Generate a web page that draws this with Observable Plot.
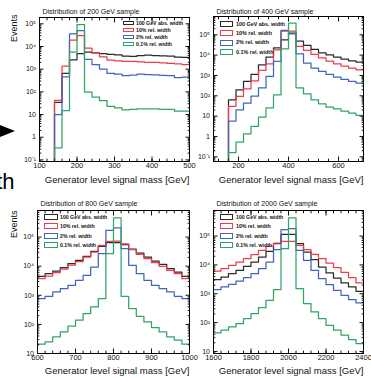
<!DOCTYPE html>
<html><head><meta charset="utf-8">
<script src="https://cdn.jsdelivr.net/npm/d3@7"></script>
<script src="https://cdn.jsdelivr.net/npm/@observablehq/plot@0.6"></script>
<style>
body{margin:0;background:#fff;}
#page{position:relative;width:371px;height:378px;overflow:hidden;background:#fff;font-family:"Liberation Sans",Arial,sans-serif;}
.panel{position:absolute;}
.leg{position:absolute;font-family:"Liberation Sans",Arial,sans-serif;font-weight:bold;color:#111;white-space:nowrap;}
.sw{position:absolute;box-sizing:border-box;border-width:1.2px;border-style:solid;background:#fff;}
</style></head><body><div id="page"></div>
<script>
// ---------- data ----------
const series = ["100 GeV abs. width", "10% rel. width", "2% rel. width", "0.1% rel. width"];
const colors = ["#2a2a2a", "#ec3e4c", "#4066ba", "#30a565"];

// 200 GeV sample
const edges200 = [100,120,140,160,180,200,220,240,260,280,300,320,340,360,380,400,420,440,460,480,500];
const abs200   = [0,0,34,660,2600,4800,5600,5200,4900,4500,4300,3800,3700,4000,4200,4000,3900,3800,3400,3300];
const rel10_200 = [0,0,42,1350,19000,30000,8500,5300,3500,2500,2300,2200,2200,2100,2000,2000,1900,1800,1700,1600];
const rel2_200  = [0,0,10,460,36000,50000,2700,1600,1000,650,600,520,550,600,580,560,530,520,420,450];
const rel01_200 = [0,0,0.34,15,5600,93000,98,59,41,23,19.5,16,17,18,18,18,17,17,14,14];

// 400 GeV sample
const edges400 = [100,130,160,190,220,250,280,310,340,370,400,430,460,490,520,550,580,610,640,670,700];
const abs400   = [0,0,63,197,507,1120,3350,7980,22970,56770,120800,48850,29850,19000,13030,10380,7980,6360,5260,4530];
const rel10_400 = [0,0,30,93,221,547,1760,3750,18290,151500,151500,26680,16980,10790,7400,5070,3750,2880,2300,1900];
const rel2_400  = [0,0,5.7,20.5,43.5,96,247,893,4890,163400,112000,11640,4050,2300,1570,1120,828,636,507,420];
const rel01_400 = [0,0,0.163,0.53,1.35,3.1,8.9,25.7,112,20480,375300,247,125,63.5,40.4,27.7,23,17.6,14.1,10.8];

// 800 GeV sample
const edges800 = [600,620,640,660,680,700,720,740,760,780,800,820,840,860,880,900,920,940,960,980,1000];
const abs800   = [4480,5530,6830,8880,12180,15850,21730,32260,47860,63970,63970,54580,38810,28270,20610,15020,11550,8200,6310,4480];
const rel10_800 = [3730,4600,5990,8000,10960,14260,20610,30600,51760,70970,72880,59050,36840,25470,18080,13190,9860,7200,5530,3730];
const rel2_800  = [769,925,1300,1693,2200,3270,4850,9360,26830,169300,209000,39810,10680,5530,3270,2200,1693,1300,925,769];
const rel01_800 = [20.9,25.1,37.3,55.3,86.5,139,235,398,769,26830,460000,925,349,190,122,77.8,55.3,37.3,28.6,20.9];

// 2000 GeV sample
const edges2000 = [1600,1640,1680,1720,1760,1800,1840,1880,1920,1960,2000,2040,2080,2120,2160,2200,2240,2280,2320,2360,2400];
const abs2000   = [3080,3810,4980,6490,8920,12600,18760,29440,54330,114200,114200,54330,27920,15180,8450,5250,3520,2370,1720,1220];
const rel10_2000 = [6150,7410,9670,12600,16430,22600,31920,43880,57250,65380,65380,47540,33650,23210,16430,11650,8020,5530,3620,2370];
const rel2_2000  = [1390,1720,2130,2770,3620,4980,7410,12600,33650,165700,179500,31920,14390,6490,3340,2070,1320,885,627,481];
const rel01_2000 = [44,54.5,71,92,138,206,331,594,1390,36500,430800,1510,456,235,138,81,54.5,36.6,25.9,18.8];

// tick labels
const xTicks200 = [100,200,300,400,500];
const xTicks400 = [200,400,600];
const xTicks800 = [600,700,800,900,1000];
const xTicks2000 = [1600,1800,2000,2200,2400];
const yTicks200 = [0.1,1,10,100,1000,10000,100000];
const yTicks400 = [0.1,1,10,100,1000,10000,100000];
const yTicks800 = [10,100,1000,10000,100000];
const yTicks2000 = [10,100,1000,10000,100000];
const titles = ["Distribution of 200 GeV sample","Distribution of 400 GeV sample","Distribution of 800 GeV sample","Distribution of 2000 GeV sample"];
const xLabel = "Generator level signal mass [GeV]";
const yLabel = "Events";

// ---------- drawing ----------
const SUP = {"-":"\u207B","0":"\u2070","1":"\u00B9","2":"\u00B2","3":"\u00B3","4":"\u2074","5":"\u2075","6":"\u2076","7":"\u2077","8":"\u2078","9":"\u2079"};
function pow10(v){
  const e = Math.round(Math.log10(v));
  if (e === 0) return "1";
  if (e === 1) return "10";
  return "10" + String(e).split("").map(c => SUP[c]).join("");
}
function logMinor(dom){
  const out = [];
  for (let k = Math.floor(Math.log10(dom[0])); k <= Math.ceil(Math.log10(dom[1])); k++)
    for (let m = 2; m <= 9; m++){ const v = m * Math.pow(10, k); if (v > dom[0] && v < dom[1]) out.push(v); }
  return out;
}
function linMinor(dom, step){
  const out = [];
  for (let v = Math.ceil(dom[0] / step) * step; v <= dom[1]; v += step) out.push(v);
  return out;
}
function histRows(edges, lists){
  const rows = [];
  lists.forEach((vals, si) => vals.forEach((v, i) => {
    rows.push({s: series[si], x: edges[i], v});
    rows.push({s: series[si], x: edges[i + 1], v});
  }));
  return rows;
}
const noLab = () => "";
function panel(o){
  const rows = histRows(o.edges, o.lists);
  const yMin = o.yDomain[0];
  const yMinor = logMinor(o.yDomain);
  const xMinor = linMinor(o.xDomain, o.xStep);
  const marks = [
    Plot.line(rows, {x: "x", y: d => Math.max(d.v, yMin), z: "s", stroke: "s", strokeWidth: 1.25, clip: true}),
    Plot.frame({stroke: "#000", strokeWidth: 1}),
    Plot.axisY({anchor: "left", ticks: o.yTicks, tickSize: -4.5, tickPadding: 8, tickFormat: pow10, label: null, fontSize: 7}),
    Plot.axisY({anchor: "left", ticks: yMinor, tickSize: -2.3, tickFormat: noLab, label: null}),
    Plot.axisY({anchor: "right", ticks: o.yTicks, tickSize: -4.5, tickFormat: noLab, label: null}),
    Plot.axisY({anchor: "right", ticks: yMinor, tickSize: -2.3, tickFormat: noLab, label: null}),
    Plot.axisX({anchor: "bottom", ticks: o.xTicks, tickSize: -4.5, tickPadding: 6, tickFormat: d => String(d), label: null, fontSize: 7.5}),
    Plot.axisX({anchor: "bottom", ticks: xMinor, tickSize: -2.3, tickFormat: noLab, label: null}),
    Plot.axisX({anchor: "top", ticks: o.xTicks, tickSize: -4.5, tickFormat: noLab, label: null}),
    Plot.axisX({anchor: "top", ticks: xMinor, tickSize: -2.3, tickFormat: noLab, label: null}),
    Plot.text([o.title], {frameAnchor: "top-left", dx: 3, dy: o.titleDy, text: d => d, fontSize: 7, textAnchor: "start", fill: "#111"}),
    Plot.text([xLabel], {frameAnchor: "bottom-right", dy: o.xLabelDy, text: d => d, fontSize: 9.5, textAnchor: "end", fill: "#111"})
  ];
  if (o.events) marks.push(Plot.text([yLabel], {frameAnchor: "top-left", dx: o.eventsDx, dy: o.eventsDy, text: d => d, rotate: -90, fontSize: 9, textAnchor: "end", fill: "#111"}));
  return Plot.plot({
    width: o.width, height: o.height,
    marginLeft: o.m[0], marginRight: o.m[1], marginTop: o.m[2], marginBottom: o.m[3],
    x: {domain: o.xDomain},
    y: {type: "log", domain: o.yDomain},
    color: {domain: series, range: colors},
    style: {fontFamily: "'Liberation Sans', Arial, sans-serif", overflow: "visible", background: "transparent", color: "#111"},
    marks
  });
}
const page = document.getElementById("page");
function place(el, left, top){ el.classList.add("panel"); el.style.left = left + "px"; el.style.top = top + "px"; page.appendChild(el); }
function legend(x0, swW, swH, textX, rows, fs){
  series.forEach((s, i) => {
    const sw = document.createElement("div");
    sw.className = "sw";
    sw.style.left = x0 + "px"; sw.style.top = (rows[i] - swH / 2) + "px";
    sw.style.width = swW + "px"; sw.style.height = swH + "px";
    sw.style.borderColor = colors[i];
    page.appendChild(sw);
    const t = document.createElement("div");
    t.className = "leg"; t.textContent = s;
    t.style.left = textX + "px"; t.style.top = (rows[i] - fs * 0.6) + "px";
    t.style.fontSize = fs + "px"; t.style.lineHeight = (fs * 1.2) + "px";
    page.appendChild(t);
  });
}

place(panel({title: titles[0], edges: edges200, lists: [abs200, rel10_200, rel2_200, rel01_200],
  xDomain: [100, 500], yDomain: [0.085, 1.9e5], xTicks: xTicks200, xStep: 20, yTicks: yTicks200,
  width: 190, height: 190, m: [39, 1, 17, 29], titleDy: -8, xLabelDy: 21, events: true, eventsDx: -29, eventsDy: -3}), 0, 0);
place(panel({title: titles[1], edges: edges400, lists: [abs400, rel10_400, rel2_400, rel01_400],
  xDomain: [100, 700], yDomain: [0.059, 7.9e5], xTicks: xTicks400, xStep: 40, yTicks: yTicks400,
  width: 181, height: 190, m: [23, 8, 16, 29], titleDy: -7, xLabelDy: 21, events: false}), 190, 0);
place(panel({title: titles[2], edges: edges800, lists: [abs800, rel10_800, rel2_800, rel01_800],
  xDomain: [600, 1000], yDomain: [10, 8.2e5], xTicks: xTicks800, xStep: 20, yTicks: yTicks800,
  width: 190, height: 188, m: [37, 1, 20, 25], titleDy: -9, xLabelDy: 20, events: true, eventsDx: -27, eventsDy: 0}), 0, 190);
place(panel({title: titles[3], edges: edges2000, lists: [abs2000, rel10_2000, rel2_2000, rel01_2000],
  xDomain: [1600, 2400], yDomain: [8.5, 7.7e5], xTicks: xTicks2000, xStep: 40, yTicks: yTicks2000,
  width: 181, height: 188, m: [23, 8, 20, 25], titleDy: -9, xLabelDy: 20, events: false}), 190, 190);

legend(123, 11, 4, 136, [23.3, 30, 36.7, 44], 5.2);
legend(219.5, 13.5, 6, 236, [24, 33.3, 42.7, 52.3], 5.4);
legend(44, 13.5, 6, 60, [216.7, 226, 235.7, 245], 5.2);
legend(219.5, 13.5, 6, 236, [216.7, 226, 235.7, 245], 5.2);

// slide fragments at the left edge
const arrow = document.createElement("div");
arrow.style.cssText = "position:absolute;left:0;top:125px;width:0;height:0;border-top:6px solid transparent;border-bottom:6px solid transparent;border-left:15px solid #000;";
page.appendChild(arrow);
const frag = document.createElement("div");
frag.textContent = "with";
frag.style.cssText = "position:absolute;right:" + (371 - 14.5) + "px;top:169px;font-size:22px;line-height:26px;font-family:'Liberation Sans',Arial,sans-serif;color:#000;white-space:nowrap;";
page.appendChild(frag);
</script></body></html>
